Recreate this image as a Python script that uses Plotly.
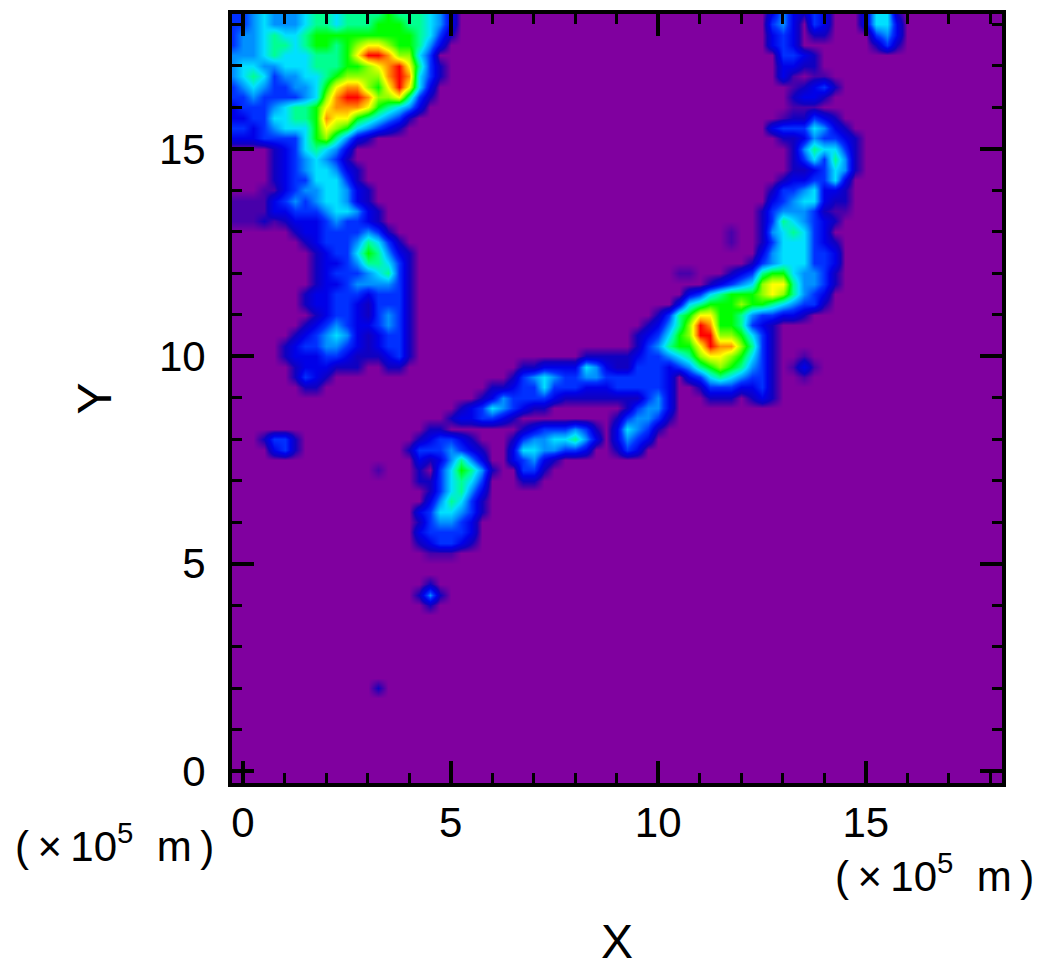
import numpy as np
import plotly.graph_objects as go

# Grid coordinates (x 10^5 m): cell centres every 0.25, row 0 at the top.
x_values = [-0.25 + 0.25 * i for i in range(75)]
y_values = [18.25 - 0.25 * i for i in range(75)]

# Levels: (row, first column, hex level digits; "-" is the faint 0.5 level).
# Unlisted cells are 0.
korea_and_mainland = [
    (0, 0, "3345444566566667666542"), (1, 0, "3345444566566677766542"),
    (2, 0, "344565567777777777" "6531"), (3, 0, "3445665677678998776" "42"),
    (4, 0, "444565556667" "9bba8853"), (5, 0, "455445556667789ab9631"),
    (6, 0, "456534455678888aba531"), (7, 0, "34543344579aa879b952"),
    (8, 0, "3343333458abba889631"), (9, 0, "2333456679aaa976542"),
    (10, 0, "223355667a99765431"), (11, 0, "33234555798754321"),
    (12, 0, "22233335786421"), (13, 4, "12356542"), (14, 4, "12345431"),
    (15, 4, "123455421"), (16, 4, "123355531"), (17, 3, "--234455421"),
    (18, 0, "----2343455421"), (19, 0, "----22333455421"), (20, 0, "---1-1222343321"),
    (21, 6, "1223333431"), (22, 7, "1233346531"), (23, 8, "1233576421"),
    (24, 8, "1223466531"), (25, 8, "1233345631"), (26, 8, "1223444431"),
    (27, 7, "12233323331"), (28, 7, "12233213331"), (29, 8, "1233213431"),
    (30, 7, "12343223431"), (31, 6, "123454212331"), (32, 5, "1233443212331"),
    (33, 5, "1222332111231"), (34, 6, "12221110011"), (35, 6, "1321"), (36, 7, "11"),
]
hokkaido_and_north = [
    (0, 52, "242132"), (0, 61, "2551"), (1, 52, "342032"), (1, 61, "2552"),
    (2, 52, "232011"), (2, 62, "342"), (3, 52, "232"), (3, 62, "131"),
    (4, 53, "3321"), (5, 53, "2211"), (6, 53, "2-0--"), (7, 54, "-1231"),
    (8, 54, "1221"), (9, 54, "---"), (10, 53, "-11321"), (11, 52, "23335421"),
    (12, 53, "11243321"), (13, 54, "1465531"), (14, 54, "1353641"),
    (15, 54, "1123541"), (16, 53, "1223352"), (17, 52, "13345221"),
    (18, 52, "23455211"), (19, 51, "1344431--"), (20, 51, "13654321"),
    (21, 51, "1456532"), (21, 48, "-"), (22, 51, "13555321"), (22, 48, "-"),
    (23, 51, "24555332"), (24, 50, "134555332"),
]
honshu = [
    (25, 43, "--"), (25, 48, "12367754431"), (26, 46, "1234589964431"),
    (27, 44, "23567778986432"), (28, 43, "256777877654331"),
    (29, 41, "136799776433221"), (30, 40, "12468ba776321"),
    (31, 39, "123578bb887531"), (32, 39, "1346779baa8631"),
    (33, 34, "1111123345689987531"), (33, 55, "-"),
    (34, 28, "1122225421133323467876431"), (34, 54, "-2-"),
    (35, 27, "13454334433333320235654331"), (35, 55, "-"),
    (36, 25, "112335333222333332"), (36, 45, "13332231"),
    (37, 24, "1243333211111111342"), (37, 46, "1110121"),
    (38, 22, "123543211"), (38, 38, "13442"),
    (39, 21, "1223321"), (39, 37, "134431"),
    (40, 37, "25431"), (41, 37, "2432"), (42, 37, "132"),
]
shikoku = [
    (40, 28, "12333431"), (41, 27, "134455642"), (42, 27, "25544332"),
    (43, 27, "23421"), (44, 28, "331"), (45, 28, "11"),
]
kyushu_and_islets = [
    (40, 19, "11"), (41, 18, "123321"), (42, 17, "13334321"), (43, 18, "2124642"),
    (44, 18, "10357641"), (44, 14, "-"), (45, 18, "1135653"), (46, 19, "135642"),
    (47, 19, "246531"), (48, 18, "2355431"), (49, 18, "134432"), (50, 18, "233332"),
    (51, 18, "123321"), (52, 19, "---"),
    (41, 3, "1331"), (42, 4, "231"),
    (55, 19, "1"), (56, 18, "141"), (57, 19, "1"), (65, 14, "1"),
]

x_tick_values = [0, 5, 10, 15]
y_tick_values = [0, 5, 10, 15]
unit_label = "(\u2009×\u200910<sup>5</sup>\u00a0\u00a0m\u2009)"

z = np.zeros((len(y_values), len(x_values)))
for region in (korea_and_mainland, hokkaido_and_north, honshu, shikoku, kyushu_and_islets):
    for row, first, digits in region:
        for k, d in enumerate(digits):
            z[row, first + k] = 0.5 if d == "-" else int(d, 16)

colorscale = [
    [0 / 11, "#80009f"], [0.5 / 11, "#4800aa"], [1 / 11, "#1000c0"], [2 / 11, "#0000e8"],
    [3 / 11, "#0030ff"], [4 / 11, "#0090ff"], [5 / 11, "#00e0ff"], [6 / 11, "#00ff90"],
    [7 / 11, "#00ff00"], [8 / 11, "#90ff00"], [9 / 11, "#ffff00"], [10 / 11, "#ff9000"],
    [11 / 11, "#ff0000"],
]

fig = go.Figure(go.Heatmap(x=x_values, y=y_values, z=z, zmin=0, zmax=11,
                           colorscale=colorscale, zsmooth="best", showscale=False))

font = dict(family="Liberation Sans", size=42, color="black")
title_font = dict(family="Liberation Sans", size=48, color="black")
unit_font = dict(family="Liberation Sans", size=42, color="black")
axis = dict(mirror="ticks", showline=True, linecolor="black", linewidth=4, showgrid=False,
            zeroline=False, ticks="inside", ticklen=22, tickwidth=4, tickcolor="black",
            dtick=5, tickfont=font, automargin=False,
            minor=dict(ticks="inside", dtick=1, ticklen=10, tickwidth=3, tickcolor="black"))

fig.update_layout(
    width=1040, height=968, autosize=False,
    margin=dict(l=232, r=38, t=14, b=185),
    paper_bgcolor="white", plot_bgcolor="#80009f",
    xaxis=dict(axis, range=[-0.265, 18.28], tickvals=x_tick_values, ticklabelstandoff=0,
               title=dict(text="X", font=title_font, standoff=87)),
    yaxis=dict(axis, range=[-0.29, 18.25], tickvals=y_tick_values, ticklabelstandoff=14,
               title=dict(text="Y", font=title_font, standoff=33)),
    annotations=[
        dict(text=unit_label, xref="paper", yref="paper", x=-0.285, y=-0.078, xanchor="left",
             yanchor="middle", showarrow=False, font=unit_font),
        dict(text=unit_label, xref="paper", yref="paper", x=0.78, y=-0.117, xanchor="left",
             yanchor="middle", showarrow=False, font=unit_font),
    ],
)
fig.write_html("out.html", post_script="document.body.style.margin='0';",
               config=dict(displayModeBar=False))
